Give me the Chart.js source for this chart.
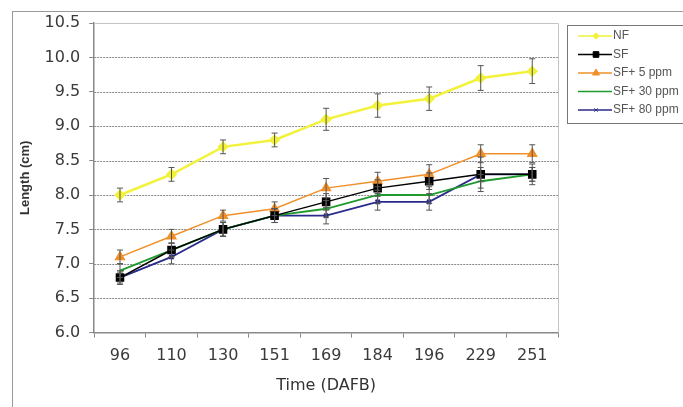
<!DOCTYPE html>
<html>
<head>
<meta charset="utf-8">
<script src="https://cdn.jsdelivr.net/npm/chart.js@4/dist/chart.umd.min.js"></script>
<style>
  html, body { margin: 0; padding: 0; background: #fff; }
  #wrap { width: 683px; height: 407px; position: relative; }
</style>
</head>
<body>
<div id="wrap"><canvas id="chart" width="683" height="407"></canvas></div>
<script>
// data
var days = ["96", "110", "130", "151", "169", "184", "196", "229", "251"];
var yTicks = [6.0, 6.5, 7.0, 7.5, 8.0, 8.5, 9.0, 9.5, 10.0, 10.5];

var nf     = [8.0, 8.3, 8.7, 8.8, 9.1, 9.3, 9.4, 9.7, 9.8];
var sf     = [6.8, 7.2, 7.5, 7.7, 7.9, 8.1, 8.2, 8.3, 8.3];
var sf5    = [7.1, 7.4, 7.7, 7.8, 8.1, 8.2, 8.3, 8.6, 8.6];
var sf30   = [6.9, 7.2, 7.5, 7.7, 7.8, 8.0, 8.0, 8.2, 8.3];
var sf80   = [6.8, 7.1, 7.5, 7.7, 7.7, 7.9, 7.9, 8.3, 8.3];

var nfErr   = [0.1, 0.1, 0.1, 0.1, 0.16, 0.17, 0.17, 0.18, 0.18];
var sfErr   = [0.08, 0.1, 0.1, 0.1, 0.12, 0.12, 0.12, 0.25, 0.15];
var sf5Err  = [0.1, 0.1, 0.08, 0.1, 0.14, 0.13, 0.14, 0.13, 0.13];
var sf30Err = [0.1, 0.1, 0.1, 0.1, 0.12, 0.12, 0.12, 0.1, 0.1];
var sf80Err = [0.1, 0.1, 0.1, 0.1, 0.12, 0.12, 0.12, 0.1, 0.1];

var tickFont = '"DejaVu Sans", sans-serif';
var textFont = '"Liberation Sans", Arial, sans-serif';

var errorBars = {
  id: 'errorBars',
  afterDatasetsDraw: function(chart) {
    var ctx = chart.ctx;
    var y = chart.scales.y;
    ctx.save();
    ctx.strokeStyle = '#555';
    ctx.lineWidth = 1;
    chart.data.datasets.forEach(function(ds, i) {
      var meta = chart.getDatasetMeta(i);
      meta.data.forEach(function(pt, j) {
        var v = ds.data[j], e = ds.err[j];
        var top = y.getPixelForValue(v + e), bot = y.getPixelForValue(v - e);
        ctx.beginPath();
        ctx.moveTo(pt.x, top); ctx.lineTo(pt.x, bot);
        ctx.moveTo(pt.x - 3, top); ctx.lineTo(pt.x + 3, top);
        ctx.moveTo(pt.x - 3, bot); ctx.lineTo(pt.x + 3, bot);
        ctx.stroke();
      });
    });
    ctx.restore();
  }
};

var dotGrid = {
  id: 'dotGrid',
  beforeDatasetsDraw: function(chart) {
    var ctx = chart.ctx, a = chart.chartArea, y = chart.scales.y;
    ctx.save();
    ctx.strokeStyle = '#888';
    ctx.setLineDash([2, 1]);
    ctx.lineWidth = 1;
    yTicks.forEach(function(v) {
      if (v === 6.0 || v === 10.5) return;
      var py = Math.round(y.getPixelForValue(v)) + 0.5;
      ctx.beginPath(); ctx.moveTo(a.left, py); ctx.lineTo(a.right, py); ctx.stroke();
    });
    ctx.setLineDash([]);
    // plot border top / right
    ctx.strokeStyle = '#c4c4c4';
    ctx.beginPath();
    ctx.moveTo(a.left, Math.round(a.top) + 0.5); ctx.lineTo(Math.round(a.right) + 0.5, Math.round(a.top) + 0.5);
    ctx.lineTo(Math.round(a.right) + 0.5, a.bottom);
    ctx.stroke();
    ctx.restore();
  }
};

var frame = {
  id: 'frame',
  afterDraw: function(chart) {
    var ctx = chart.ctx;
    ctx.save();
    // outer border
    ctx.strokeStyle = '#999';
    ctx.lineWidth = 1;
    ctx.strokeRect(12.5, 11.5, 690, 420);
    // legend box
    var lx = 567, ly = 25, lw = 130, lh = 98;
    ctx.strokeStyle = '#777';
    ctx.strokeRect(lx + 0.5, ly + 0.5, lw, lh);
    ctx.font = '12px ' + textFont;
    ctx.textBaseline = 'middle';
    chart.data.datasets.forEach(function(ds, i) {
      var cy = ly + 11 + i * 18.5;
      ctx.strokeStyle = ds.borderColor;
      ctx.lineWidth = 1.5;
      ctx.beginPath();
      ctx.moveTo(lx + 11, cy); ctx.lineTo(lx + 45, cy);
      ctx.stroke();
      ctx.fillStyle = ds.pointBackgroundColor;
      ctx.lineWidth = 1;
      Chart.helpers.drawPoint(ctx, {
        pointStyle: ds.pointStyle, radius: ds.pointRadius * 0.8, borderWidth: 1
      }, lx + 29, cy);
      ctx.fillStyle = '#555';
      ctx.fillText(ds.label, lx + 46, cy);
    });
    ctx.restore();
  }
};

new Chart(document.getElementById('chart'), {
  type: 'line',
  data: {
    labels: days,
    datasets: [
      { label: 'NF', data: nf, err: nfErr, borderColor: '#f2f23a', backgroundColor: '#f2f23a',
        pointBackgroundColor: '#f2f23a', pointStyle: 'rectRot', pointRadius: 4, borderWidth: 2.5 },
      { label: 'SF', data: sf, err: sfErr, borderColor: '#000000', backgroundColor: '#000000',
        pointBackgroundColor: '#000000', pointStyle: 'rect', pointRadius: 5, borderWidth: 1.5 },
      { label: 'SF+ 5 ppm', data: sf5, err: sf5Err, borderColor: '#f0902a', backgroundColor: '#f0902a',
        pointBackgroundColor: '#f0902a', pointStyle: 'triangle', pointRadius: 5, borderWidth: 1.5 },
      { label: 'SF+ 30 ppm', data: sf30, err: sf30Err, borderColor: '#1e9a2e', backgroundColor: '#1e9a2e',
        pointBackgroundColor: '#1e9a2e', pointStyle: 'dash', pointRadius: 4, borderWidth: 1.8 },
      { label: 'SF+ 80 ppm', data: sf80, err: sf80Err, borderColor: '#2a2a8c', backgroundColor: '#2a2a8c',
        pointBackgroundColor: '#2a2a8c', pointStyle: 'crossRot', pointRadius: 3, borderWidth: 1.8 }
    ]
  },
  options: {
    responsive: false,
    animation: false,
    events: [],
    layout: { padding: { left: 18, top: 23, right: 125, bottom: 12 } },
    plugins: { legend: { display: false }, tooltip: { enabled: false } },
    elements: { line: { tension: 0 }, point: { borderWidth: 1 } },
    scales: {
      x: {
        offset: true,
        grid: { display: true, drawOnChartArea: false, drawTicks: true, offset: true,
                tickLength: 5, color: '#888' },
        border: { color: '#888', width: 1.5 },
        ticks: { color: '#3a3a3a', font: { size: 16, family: tickFont }, padding: 9 },
        title: { display: true, text: 'Time (DAFB)', color: '#333',
                 font: { size: 16, family: tickFont }, padding: { top: 1, bottom: 0 } }
      },
      y: {
        min: 6.0, max: 10.5,
        afterBuildTicks: function(axis) { axis.ticks = yTicks.map(function(v) { return { value: v }; }); },
        grid: { drawOnChartArea: false, drawTicks: true, tickLength: 5, color: '#888' },
        border: { color: '#888', width: 1.5 },
        ticks: { color: '#3a3a3a', padding: 9, font: { size: 16, family: tickFont },
                 callback: function(v) { return Number(v).toFixed(1); } },
        title: { display: true, text: 'Length (cm)', color: '#333',
                 font: { size: 13, family: textFont, weight: 'bold' }, padding: { top: 0, bottom: 2 } }
      }
    }
  },
  plugins: [dotGrid, errorBars, frame]
});
</script>
</body>
</html>
